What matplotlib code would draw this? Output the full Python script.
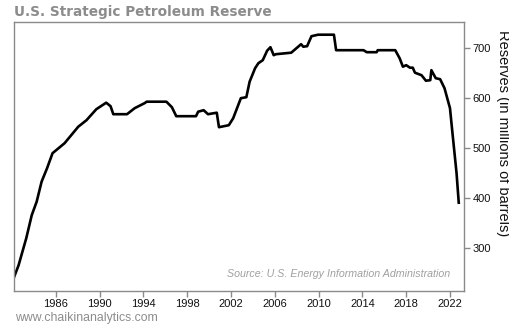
import matplotlib
matplotlib.use("Agg")
import matplotlib.pyplot as plt

years = [1982.2, 1982.6, 1983.3, 1983.8, 1984.25, 1984.7, 1985.2, 1985.7, 1986.8,
         1988.05, 1988.8, 1989.7, 1990.6, 1991.0, 1991.25, 1992.5, 1993.2, 1994.1,
         1994.3, 1996.1, 1996.6, 1997.0, 1998.8, 1999.0, 1999.5, 1999.9, 2000.7,
         2000.9, 2001.8, 2002.2, 2002.9, 2003.4, 2003.7, 2004.2, 2004.5, 2004.9,
         2005.3, 2005.6, 2005.9, 2006.1, 2007.5, 2008.4, 2008.6, 2008.95, 2009.35,
         2009.95, 2011.4, 2011.6, 2014.1, 2014.4, 2015.3, 2015.4, 2017.0, 2017.4,
         2017.7, 2018.0, 2018.35, 2018.6, 2018.8, 2019.4, 2019.8, 2020.2, 2020.3,
         2020.7, 2021.1, 2021.5, 2022.0, 2022.2, 2022.6, 2022.8]
reserves = [242, 265, 319, 365, 392, 432, 459, 489, 509,
            542, 555, 577, 590, 583, 567, 567, 579, 589,
            592, 592, 581, 563, 563, 572, 575, 567, 570,
            541, 545, 559, 599, 601, 632, 659, 669, 675,
            694, 701, 685, 687, 690, 707, 702, 703, 723,
            726, 726, 695, 695, 691, 691, 695, 695, 679,
            662, 665, 660, 660, 650, 645, 634, 635, 655,
            639, 637, 619, 579, 535, 449, 390]

xticks = [1986, 1990, 1994, 1998, 2002, 2006, 2010, 2014, 2018, 2022]
yticks = [300, 400, 500, 600, 700]

title = "U.S. Strategic Petroleum Reserve"
ylabel = "Reserves (in millions of barrels)"
source = "Source: U.S. Energy Information Administration"
watermark = "www.chaikinanalytics.com"

W, H = 510, 325
fig = plt.figure(figsize=(W / 100, H / 100), dpi=100)
ax = fig.add_axes([14 / W, 1 - 291 / H, (464 - 14) / W, (291 - 22) / H])

ax.plot(years, reserves, color="black", lw=1.9, solid_joinstyle="round")
ax.set_xlim(1982.18, 2023.28)
ax.set_ylim(213.4, 751.4)

spine_c = "#8a8a8a"
for s in ax.spines.values():
    s.set_color(spine_c)
    s.set_linewidth(1.0)

ax.set_xticks(xticks)
ax.set_xticklabels([str(x) for x in xticks], fontfamily="Liberation Sans", fontsize=8)
ax.yaxis.tick_right()
ax.yaxis.set_label_position("right")
ax.set_yticks(yticks)
ax.set_yticklabels([str(y) for y in yticks], fontfamily="Liberation Sans", fontsize=8)
ax.tick_params(axis="both", color=spine_c, length=4, width=1, labelcolor="#111111", pad=2)
ax.set_ylabel(ylabel, rotation=270, fontfamily="Liberation Sans", fontsize=10.5,
              color="#111111", va="center", ha="center")
ax.yaxis.set_label_coords((503 - 14) / 450, 1 - (133 - 22) / 269)

ax.text(0.97, 0.065, source, transform=ax.transAxes, ha="right", va="center",
        fontfamily="Liberation Sans", fontstyle="italic", fontsize=7.7, color="#a0a0a0")

fig.text(14 / W, 1 - 12 / H, title, ha="left", va="center", fontfamily="DejaVu Sans",
         fontweight="bold", fontsize=9.8, color="#8c8c8c")
fig.text(15 / W, 1 - 318 / H, watermark, ha="left", va="center",
         fontfamily="Liberation Sans", fontsize=8.8, color="#8c8c8c")

fig.savefig("out.png", dpi=100)
